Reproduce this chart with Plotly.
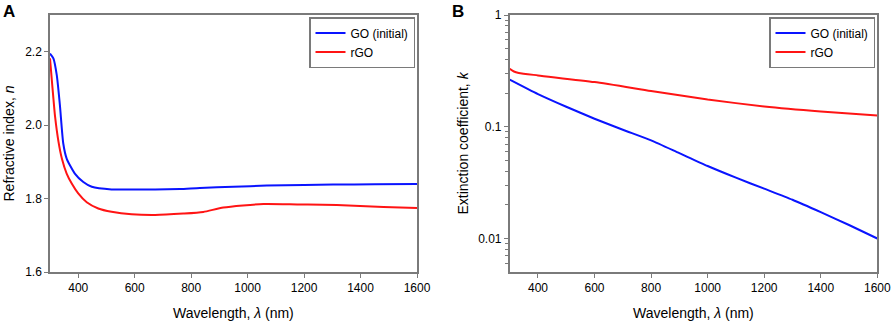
import plotly.graph_objects as go

# Panel A: refractive index n
wl_n_go = [300, 312, 324, 335, 347, 359, 388, 418, 448, 518, 600, 672, 760, 831, 950, 1068, 1200, 1303, 1450, 1600]
n_go = [2.195, 2.182, 2.136, 2.055, 1.95, 1.909, 1.868, 1.845, 1.832, 1.825, 1.8245, 1.8245, 1.826, 1.829, 1.832, 1.8355, 1.837, 1.838, 1.839, 1.840]
wl_n_rgo = [300, 306, 312, 318, 330, 342, 359, 377, 400, 430, 471, 518, 589, 672, 772, 843, 914, 1056, 1180, 1316, 1481, 1600]
n_rgo = [2.182, 2.127, 2.073, 2.023, 1.955, 1.909, 1.868, 1.841, 1.814, 1.79, 1.773, 1.764, 1.757, 1.755, 1.759, 1.7636, 1.7755, 1.7853, 1.784, 1.7826, 1.777, 1.7744]

# Panel B: extinction coefficient k
wl_k_go = [300, 400, 500, 600, 700, 800, 900, 1000, 1100, 1200, 1300, 1400, 1500, 1600]
k_go = [0.264, 0.196, 0.151, 0.118, 0.094, 0.0755, 0.058, 0.0445, 0.035, 0.0279, 0.0222, 0.0172, 0.0132, 0.0100]
wl_k_rgo = [300, 315, 332, 400, 600, 800, 1000, 1200, 1400, 1600]
k_rgo = [0.33, 0.312, 0.303, 0.288, 0.251, 0.209, 0.175, 0.152, 0.137, 0.126]

x_ticks = [400, 600, 800, 1000, 1200, 1400, 1600]
n_ticks = [1.6, 1.8, 2.0, 2.2]
k_ticks = [0.01, 0.1, 1]
k_ticktext = ["0.01", "0.1", "1"]
k_minor_ticks = [0.006, 0.007, 0.008, 0.009,
                 0.02, 0.03, 0.04, 0.05, 0.06, 0.07, 0.08, 0.09,
                 0.2, 0.3, 0.4, 0.5, 0.6, 0.7, 0.8, 0.9]

BLUE = "#0a14ff"
RED = "#ff1414"
GRAY = "#7a7a7a"
FONT = "Liberation Sans, Arial, sans-serif"

fig = go.Figure()
fig.add_trace(go.Scatter(x=wl_n_go, y=n_go, mode="lines", name="GO (initial)",
                         line=dict(color=BLUE, width=2, shape="spline", smoothing=0.6),
                         xaxis="x", yaxis="y", legend="legend"))
fig.add_trace(go.Scatter(x=wl_n_rgo, y=n_rgo, mode="lines", name="rGO",
                         line=dict(color=RED, width=2, shape="spline", smoothing=0.6),
                         xaxis="x", yaxis="y", legend="legend"))
fig.add_trace(go.Scatter(x=wl_k_go, y=k_go, mode="lines", name="GO (initial)",
                         line=dict(color=BLUE, width=2, shape="spline", smoothing=0.6),
                         xaxis="x2", yaxis="y2", legend="legend2"))
fig.add_trace(go.Scatter(x=wl_k_rgo, y=k_rgo, mode="lines", name="rGO",
                         line=dict(color=RED, width=2, shape="spline", smoothing=0.6),
                         xaxis="x2", yaxis="y2", legend="legend2"))

W, H = 892, 324
PH = 257  # plot area height in px
axA = (50 / W, 417 / W)
axB = (509.7 / W, 877.3 / W)

common_axis = dict(showline=True, linecolor=GRAY, linewidth=1.5, mirror=True,
                   showgrid=False, zeroline=False, ticks="outside", ticklen=4,
                   tickcolor=GRAY, tickwidth=1, tickfont=dict(size=12, color="black"))

fig.update_layout(
    width=W, height=H,
    margin=dict(l=0, r=0, t=15, b=52, autoexpand=False),
    paper_bgcolor="white", plot_bgcolor="white",
    font=dict(family=FONT, color="black"),
    xaxis=dict(domain=list(axA), range=[300, 1600], tickvals=x_ticks, anchor="y", **common_axis),
    yaxis=dict(domain=[0, 1], range=[1.6, 2.3], tickvals=n_ticks, tickformat=".1f", anchor="x", **common_axis),
    xaxis2=dict(domain=list(axB), range=[300, 1600], tickvals=x_ticks, anchor="y2", **common_axis),
    yaxis2=dict(domain=[0, 1], type="log", range=[-2.3, 0], tickmode="array",
                tickvals=k_ticks, ticktext=k_ticktext, anchor="x2",
                minor=dict(tickmode="array", tickvals=k_minor_ticks, ticks="outside",
                           ticklen=3, tickcolor=GRAY, tickwidth=1, showgrid=False),
                **common_axis),
    legend=dict(x=415 / W, xanchor="right", xref="paper", y=1 - 2 / PH, yanchor="top",
                bordercolor=GRAY, borderwidth=1.5, bgcolor="white",
                font=dict(size=12, color="black"), itemwidth=30, tracegroupgap=0),
    legend2=dict(x=875 / W, xanchor="right", xref="paper", y=1 - 2 / PH, yanchor="top",
                 bordercolor=GRAY, borderwidth=1.5, bgcolor="white",
                 font=dict(size=12, color="black"), itemwidth=30, tracegroupgap=0),
    showlegend=True,
)

fig.add_annotation(text="<b>A</b>", x=1 / W, y=1 + 4 / PH, xref="paper", yref="paper",
                   xanchor="left", yanchor="middle", showarrow=False, font=dict(size=17))
fig.add_annotation(text="<b>B</b>", x=450 / W, y=1 + 4 / PH, xref="paper", yref="paper",
                   xanchor="left", yanchor="middle", showarrow=False, font=dict(size=17))
fig.add_annotation(text="Wavelength, <i>λ</i> (nm)", x=(axA[0] + axA[1]) / 2, y=-41 / PH,
                   xref="paper", yref="paper", xanchor="center", yanchor="middle",
                   showarrow=False, font=dict(size=14))
fig.add_annotation(text="Wavelength, <i>λ</i> (nm)", x=(axB[0] + axB[1]) / 2, y=-41 / PH,
                   xref="paper", yref="paper", xanchor="center", yanchor="middle",
                   showarrow=False, font=dict(size=14))
fig.add_annotation(text="Refractive index, <i>n</i>", x=8 / W, y=0.5,
                   xref="paper", yref="paper", xanchor="center", yanchor="middle",
                   textangle=-90, showarrow=False, font=dict(size=14))
fig.add_annotation(text="Extinction coefficient, <i>k</i>", x=462 / W, y=0.5,
                   xref="paper", yref="paper", xanchor="center", yanchor="middle",
                   textangle=-90, showarrow=False, font=dict(size=14))

fig.write_html("out.html", config={"displayModeBar": False},
               post_script="document.body.style.margin='0';document.body.style.overflow='hidden';")
